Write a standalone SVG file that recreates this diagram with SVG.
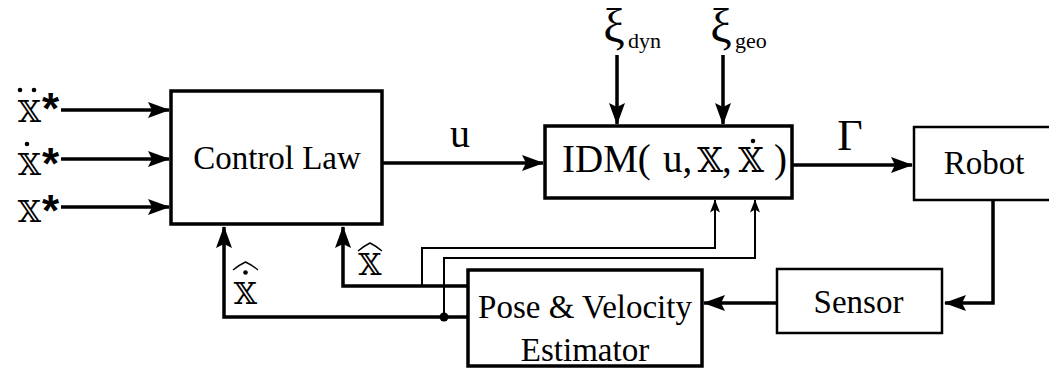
<svg xmlns="http://www.w3.org/2000/svg" width="1049" height="368" viewBox="0 0 1049 368">
<style>
.box{fill:#fff;stroke:#000;stroke-width:3.5}
.tbox{fill:#fff;stroke:#000;stroke-width:2.5}
.t{font-family:"Liberation Serif","Times New Roman",serif;fill:#000}
.bb{font-family:"DejaVu Serif","DejaVu Sans","Noto Sans",serif;fill:#000}
.star{font-family:"Liberation Sans",Arial,sans-serif;font-weight:bold;fill:#000}
.w{fill:none;stroke:#000;stroke-width:3.5}
.n{fill:none;stroke:#000;stroke-width:2}
.hat{fill:none;stroke:#000;stroke-width:1.4}
.dot{fill:#000}
</style>
<defs>
<marker id="ah" markerUnits="userSpaceOnUse" viewBox="0 0 22 16" refX="21" refY="8" markerWidth="22" markerHeight="16" orient="auto">
<path d="M0,0 L22,8 L0,16 L4,8 Z" fill="#000"/>
</marker>
<marker id="ahs" markerUnits="userSpaceOnUse" viewBox="0 0 13 10" refX="12.5" refY="5" markerWidth="13" markerHeight="10" orient="auto">
<path d="M0,0 L13,5 L0,10 L3,5 Z" fill="#000"/>
</marker>
</defs>

<g id="connectors">
<line class="w" x1="61" y1="110" x2="169" y2="110" marker-end="url(#ah)"/>
<line class="w" x1="61" y1="159" x2="169" y2="159" marker-end="url(#ah)"/>
<line class="w" x1="61" y1="207" x2="169" y2="207" marker-end="url(#ah)"/>
<line class="w" x1="382" y1="163" x2="543" y2="163" marker-end="url(#ah)"/>
<line class="w" x1="617" y1="55" x2="617" y2="124" marker-end="url(#ah)"/>
<line class="w" x1="723" y1="55" x2="723" y2="124" marker-end="url(#ah)"/>
<line class="w" x1="792" y1="165" x2="912" y2="165" marker-end="url(#ah)"/>
<path class="w" d="M993,201 V303 H945" marker-end="url(#ah)"/>
<path class="w" d="M777,303 H704" marker-end="url(#ah)"/>
<path class="w" d="M468,317 H224 V227" marker-end="url(#ah)"/>
<path class="w" d="M468,286 H343 V227" marker-end="url(#ah)"/>
<path class="n" d="M422,286 V248 H715 V200" marker-end="url(#ahs)"/>
<path class="n" d="M444,317 V258 H755 V200" marker-end="url(#ahs)"/>
<circle cx="444" cy="317" r="4.5" fill="#000"/>
</g>

<g id="labels">
<!-- input references -->
<circle class="dot" cx="20" cy="90" r="2.3"/>
<circle class="dot" cx="34" cy="90" r="2.3"/>
<text class="bb" x="29.5" y="122" font-size="30" text-anchor="middle">𝕏</text>
<text class="star" x="42" y="124" font-size="44">*</text>
<circle class="dot" cx="27" cy="144" r="2.3"/>
<text class="bb" x="29.5" y="175" font-size="30" text-anchor="middle">𝕏</text>
<text class="star" x="42" y="179" font-size="44">*</text>
<text class="bb" x="29.5" y="222" font-size="30" text-anchor="middle">𝕏</text>
<text class="star" x="42" y="226" font-size="44">*</text>
<!-- u -->
<text class="t" x="460" y="147" font-size="40" text-anchor="middle">u</text>
<!-- disturbances -->
<text class="t" x="614" y="42" font-size="48" text-anchor="middle">ξ</text>
<text class="t" x="628" y="48" font-size="22">dyn</text>
<text class="t" x="721" y="42" font-size="48" text-anchor="middle">ξ</text>
<text class="t" x="735" y="48" font-size="22">geo</text>
<!-- Gamma -->
<text class="t" x="850" y="150" font-size="44" text-anchor="middle">Γ</text>
<!-- estimates -->
<path class="hat" d="M358,251 Q364,246 370,243 Q376,246 382,251"/>
<text class="bb" x="370" y="275" font-size="30" text-anchor="middle">𝕏</text>
<path class="hat" d="M233,270 Q239,265 245.5,262 Q252,265 258,270"/>
<circle class="dot" cx="245.5" cy="272.5" r="2.3"/>
<text class="bb" x="245.5" y="304" font-size="30" text-anchor="middle">𝕏</text>
</g>

<g id="control-law">
<rect class="box" x="171" y="91" width="211" height="133"/>
<text class="t" x="277" y="169" font-size="33" text-anchor="middle">Control Law</text>
</g>

<g id="idm">
<rect class="box" x="545" y="126" width="247" height="72"/>
<text class="t" x="562" y="172" font-size="39">IDM(</text>
<text class="t" x="663" y="172" font-size="39">u,</text>
<text class="bb" x="710" y="172" font-size="33" text-anchor="middle">𝕏</text>
<text class="t" x="722" y="172" font-size="39">,</text>
<circle class="dot" cx="753" cy="141" r="2.3"/>
<text class="bb" x="751" y="172" font-size="33" text-anchor="middle">𝕏</text>
<text class="t" x="774" y="172" font-size="39">)</text>
</g>

<g id="robot">
<rect class="tbox" x="914" y="127" width="145" height="73"/>
<text class="t" x="984" y="174" font-size="33" text-anchor="middle">Robot</text>
</g>

<g id="sensor">
<rect class="tbox" x="777" y="269" width="165" height="64"/>
<text class="t" x="858.5" y="313" font-size="33" text-anchor="middle">Sensor</text>
</g>

<g id="estimator">
<rect class="box" x="468" y="270" width="234" height="96"/>
<text class="t" x="585" y="318" font-size="33" text-anchor="middle">Pose &amp; Velocity</text>
<text class="t" x="585" y="361" font-size="33" text-anchor="middle">Estimator</text>
</g>
</svg>
